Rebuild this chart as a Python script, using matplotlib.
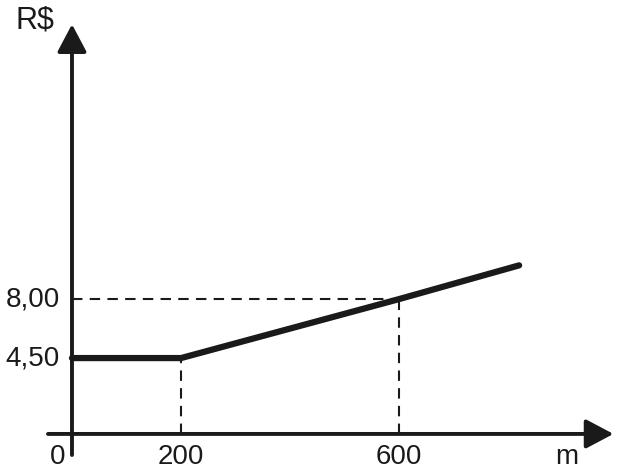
import matplotlib.pyplot as plt

plt.rcParams['font.family'] = ['Liberation Sans', 'DejaVu Sans']

# dados do gráfico (distância em m, preço em R$)
dist = [0, 200, 600, 820]
preco = [4.50, 4.50, 8.00, 10.0]

ticks_x = [200, 600]
rotulos_x = ['200', '600']
ticks_y = [4.50, 8.00]
rotulos_y = ['4,50', '8,00']

fig = plt.figure(figsize=(6.26, 4.69), dpi=100)
ax = fig.add_axes([0, 0, 1, 1])
ax.set_xlim(-132, 1016)
ax.set_ylim(-2.08, 25.74)
ax.axis('off')

cor = '#1a1a1a'

# eixos com setas
seta = dict(arrowstyle='-|>,head_length=0.85,head_width=0.45', color=cor,
            lw=2.8, mutation_scale=20, shrinkA=0, shrinkB=0)
ax.annotate('', xy=(993, 0), xytext=(-44, 0), arrowprops=seta)
ax.annotate('', xy=(0, 24.3), xytext=(0, -1.25), arrowprops=seta)

# linhas tracejadas de referência
tracejado = dict(ls=(0, (5, 3.5)), color=cor, lw=1.5)
ax.plot([ticks_x[0], ticks_x[0]], [0, preco[1]], **tracejado)
ax.plot([ticks_x[1], ticks_x[1]], [0, ticks_y[1]], **tracejado)
ax.plot([0, ticks_x[1]], [ticks_y[1], ticks_y[1]], **tracejado)

# função do preço
ax.plot(dist, preco, color=cor, lw=4.5, solid_capstyle='round', solid_joinstyle='round')

fs = 20
for x, r in zip(ticks_x, rotulos_x):
    ax.text(x, -1.76, r, ha='center', va='baseline', fontsize=fs, color=cor)
for y, r in zip(ticks_y, rotulos_y):
    ax.text(-22, y, r, ha='right', va='center', fontsize=fs, color=cor)
ax.text(-26, -1.76, '0', ha='center', va='baseline', fontsize=fs, color=cor)
ax.text(908, -1.76, 'm', ha='center', va='baseline', fontsize=fs, color=cor)
ax.text(-68, 24.5, 'R$', ha='center', va='center', fontsize=22, color=cor)

fig.savefig('out.png', dpi=100)
